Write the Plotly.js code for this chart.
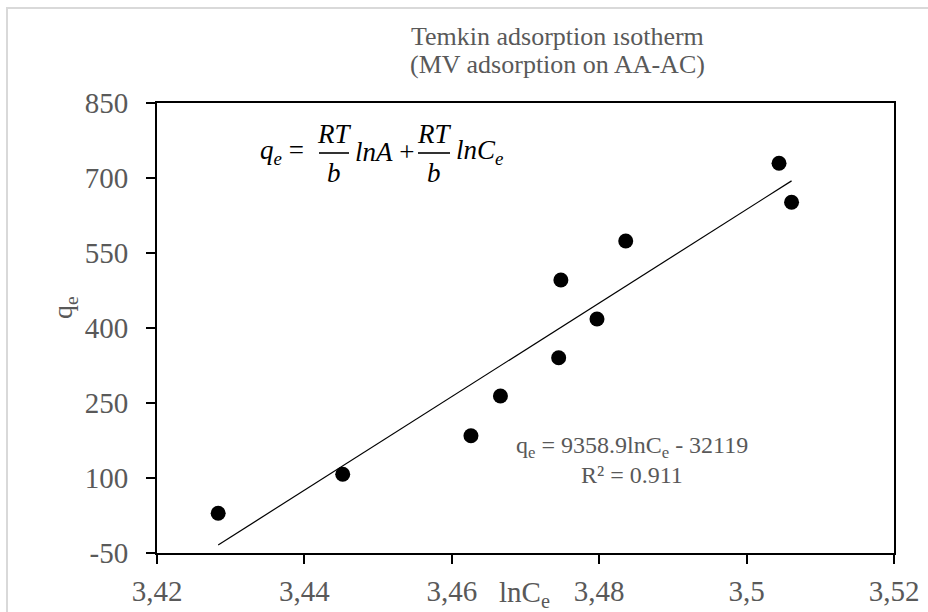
<!DOCTYPE html>
<html>
<head>
<meta charset="utf-8">
<script src="https://cdn.plot.ly/plotly-3.0.1.min.js"></script>
<style>
  html, body { margin: 0; padding: 0; background: #ffffff; }
  #chart { width: 928px; height: 612px; }
</style>
</head>
<body>
<div id="chart"></div>
<script>
// ---- data ----
var lnCe = [3.4283, 3.4452, 3.4626, 3.4666, 3.4745, 3.4748, 3.4797, 3.4836, 3.5044, 3.5061];
var qe   = [29.4, 107.4, 184.6, 264, 340.6, 496, 418, 574, 729.4, 651.4];

// linear trendline as displayed: qe = 9358.9 lnCe - 32119
var trendSlope = 9358.9;
var trendIntercept = -32119;
var trendX = [3.4283, 3.5061];

var xTickVals = [3.42, 3.44, 3.46, 3.48, 3.50, 3.52];
var xTickText = ["3,42", "3,44", "3,46", "3,48", "3,5", "3,52"];
var yTickVals = [-50, 100, 250, 400, 550, 700, 850];
var yTickText = ["-50", "100", "250", "400", "550", "700", "850"];

var titleLine1 = "Temkin adsorption ısotherm";
var titleLine2 = "(MV adsorption on AA-AC)";
var xTitle = "lnC<sub>e</sub>";
var yTitle = "q<sub>e</sub>";
var eqText = "q<sub>e</sub> = 9358.9lnC<sub>e</sub> - 32119";
var r2Text = "R² = 0.911";

// ---- layout helpers (pixel -> paper) ----
var W = 928, H = 612;
var L = 157, R = 34, T = 103, B = 59;
var PW = W - L - R, PH = H - T - B;
function px(x) { return (x - L) / PW; }
function py(y) { return (H - B - y) / PH; }

var trendY = trendX.map(function (x) { return trendSlope * x + trendIntercept; });

var grey = "#595959";
var serif = "Liberation Serif, Times New Roman, serif";

var traces = [
  {
    x: trendX, y: trendY, type: "scatter", mode: "lines",
    line: { color: "#000000", width: 1.2 }, hoverinfo: "skip", showlegend: false
  },
  {
    x: lnCe, y: qe, type: "scatter", mode: "markers",
    marker: { color: "#000000", size: 15, line: { width: 0 } }, showlegend: false
  }
];

function ann(text, x, y, size, color, xanchor, extra) {
  var a = {
    text: text, xref: "paper", yref: "paper", x: px(x), y: py(y),
    xanchor: xanchor || "center", yanchor: "middle", showarrow: false,
    font: { family: serif, size: size, color: color }
  };
  if (extra) for (var k in extra) a[k] = extra[k];
  return a;
}

var mathFont = 27;
var annotations = [
  ann(titleLine1, 557, 36, 26, grey),
  ann(titleLine2, 557, 65, 26, grey),
  ann(eqText, 632, 447, 24, grey),
  ann(r2Text, 632, 475, 24, grey),
  ann(xTitle, 524, 594, 29, grey),
  ann(yTitle, 64, 308, 28, grey, "center", { textangle: -90 }),
  // Temkin equation drawn as math
  ann("<i>q<sub>e</sub></i> =", 258, 152, mathFont, "#000000", "left"),
  ann("<i>RT</i>", 334, 134, mathFont, "#000000"),
  ann("<i>b</i>", 334, 173, mathFont, "#000000"),
  ann("<i>lnA</i> +", 353, 152, mathFont, "#000000", "left"),
  ann("<i>RT</i>", 434, 134, mathFont, "#000000"),
  ann("<i>b</i>", 434, 173, mathFont, "#000000"),
  ann("<i>lnC<sub>e</sub></i>", 454, 152, mathFont, "#000000", "left")
];

var shapes = [
  // chart area border
  { type: "rect", xref: "paper", yref: "paper", x0: px(7), x1: px(960), y0: py(8), y1: py(650),
    line: { color: "#d9d9d9", width: 2 }, fillcolor: "rgba(0,0,0,0)", layer: "below" },
  // fraction bars
  { type: "line", xref: "paper", yref: "paper", x0: px(319), x1: px(349), y0: py(153), y1: py(153),
    line: { color: "#000000", width: 1.6 } },
  { type: "line", xref: "paper", yref: "paper", x0: px(418), x1: px(450), y0: py(153), y1: py(153),
    line: { color: "#000000", width: 1.6 } }
];

var layout = {
  width: W, height: H,
  margin: { l: L, r: R, t: T, b: B, pad: 0 },
  paper_bgcolor: "#ffffff", plot_bgcolor: "#ffffff",
  font: { family: serif, color: grey },
  xaxis: {
    range: [3.42, 3.52], tickvals: xTickVals, ticktext: xTickText,
    showgrid: false, zeroline: false,
    showline: true, mirror: true, linecolor: "#000000", linewidth: 2,
    ticks: "outside", ticklen: 9, tickwidth: 2, tickcolor: "#000000",
    tickfont: { family: serif, size: 29, color: grey }, ticklabelstandoff: 2
  },
  yaxis: {
    range: [-50, 850], tickvals: yTickVals, ticktext: yTickText,
    showgrid: false, zeroline: false,
    showline: true, mirror: true, linecolor: "#000000", linewidth: 2,
    ticks: "outside", ticklen: 9, tickwidth: 2, tickcolor: "#000000",
    tickfont: { family: serif, size: 29, color: grey }, ticklabelstandoff: 12
  },
  showlegend: false,
  annotations: annotations,
  shapes: shapes
};

Plotly.newPlot("chart", traces, layout, { displayModeBar: false, staticPlot: true });
</script>
</body>
</html>
